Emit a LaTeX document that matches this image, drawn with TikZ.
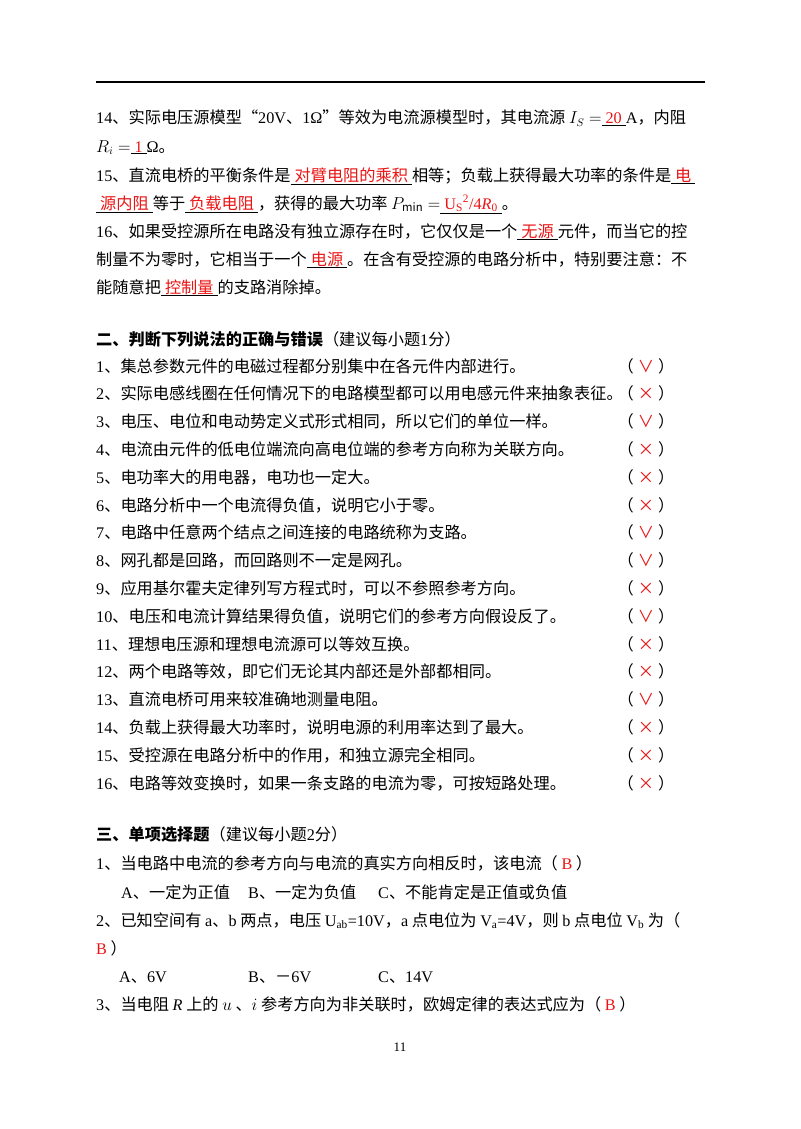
\documentclass[tikz,border=0pt]{standalone}
\usepackage{fontspec}
\setmainfont{Noto Sans CJK SC}
\newfontfamily\lat{Liberation Serif}
\definecolor{ansred}{RGB}{235,20,20}
\newcommand{\ans}[1]{\underline{\hspace{4pt}\textcolor{ansred}{#1}\hspace{4pt}}}
\newcommand{\Lt}[1]{{\lat #1}}
\begin{document}
\begin{tikzpicture}[x=1pt,y=-1pt,
  ln/.style={anchor=base west,inner sep=0pt,font=\fontsize{16.2}{16.2}\selectfont},
  mk/.style={anchor=base,inner sep=0pt,font=\fontsize{16.2}{16.2}\selectfont}]
\useasboundingbox (0,0) rectangle (800,1129);
\fill[white] (0,0) rectangle (800,1129);
\draw[line width=1.2pt] (96,82) -- (705,82);
\node[ln] (a1) at (96,124) {\Lt{14}、实际电压源模型“\Lt{20V}、\Lt{1Ω}”等效为电流源模型时，其电流源 $I_S=$\ans{\Lt{20}}\Lt{A}，内阻};
\node[ln] (a2) at (96,152) {$R_i=$\ans{\Lt{1}}\Lt{Ω}。};
\node[ln] (a3) at (96,181) {\Lt{15}、直流电桥的平衡条件是\ans{对臂电阻的乘积}相等；负载上获得最大功率的条件是\ans{电}};
\node[ln] (a4) at (96,209) {\ans{源内阻}等于\ans{负载电阻}，获得的最大功率 $P_{\min}=$\ans{\Lt{U\textsubscript{S}\textsuperscript{2}/4\textit{R}\textsubscript{0}}}。};
\node[ln] (a5) at (96,237) {\Lt{16}、如果受控源所在电路没有独立源存在时，它仅仅是一个\ans{无源}元件，而当它的控};
\node[ln] (a6) at (96,265) {制量不为零时，它相当于一个\ans{电源}。在含有受控源的电路分析中，特别要注意：不};
\node[ln] (a7) at (96,293) {能随意把\ans{控制量}的支路消除掉。};
\node[ln] (s2) at (96,345) {\textbf{二、判断下列说法的正确与错误}（建议每小题\Lt{1}分）};
\foreach \i/\t/\m in {
 1/集总参数元件的电磁过程都分别集中在各元件内部进行。/∨,
 2/实际电感线圈在任何情况下的电路模型都可以用电感元件来抽象表征。/×,
 3/电压、电位和电动势定义式形式相同，所以它们的单位一样。/∨,
 4/电流由元件的低电位端流向高电位端的参考方向称为关联方向。/×,
 5/电功率大的用电器，电功也一定大。/×,
 6/电路分析中一个电流得负值，说明它小于零。/×,
 7/电路中任意两个结点之间连接的电路统称为支路。/∨,
 8/网孔都是回路，而回路则不一定是网孔。/∨,
 9/应用基尔霍夫定律列写方程式时，可以不参照参考方向。/×,
 10/电压和电流计算结果得负值，说明它们的参考方向假设反了。/∨,
 11/理想电压源和理想电流源可以等效互换。/×,
 12/两个电路等效，即它们无论其内部还是外部都相同。/×,
 13/直流电桥可用来较准确地测量电阻。/∨,
 14/负载上获得最大功率时，说明电源的利用率达到了最大。/×,
 15/受控源在电路分析中的作用，和独立源完全相同。/×,
 16/电路等效变换时，如果一条支路的电流为零，可按短路处理。/×}{
  \pgfmathsetmacro\yy{372+(\i-1)*27.8}
  \node[ln] (j\i) at (96,\yy) {\Lt{\i}、\t};
  \node[mk] (p\i) at (646,\yy) {（\hspace{4pt}\textcolor{ansred}{\m}\hspace{4pt}）};
}
\node[ln] (s3) at (96,840) {\textbf{三、单项选择题}（建议每小题\Lt{2}分）};
\node[ln] (c1) at (96,869) {\Lt{1}、当电路中电流的参考方向与电流的真实方向相反时，该电流（ \textcolor{ansred}{\Lt{B}} ）};
\node[ln] (c1a) at (121,898) {\Lt{A}、一定为正值};
\node[ln] (c1b) at (248,898) {\Lt{B}、一定为负值};
\node[ln] (c1c) at (378,898) {\Lt{C}、不能肯定是正值或负值};
\node[ln] (c2) at (96,926) {\Lt{2}、已知空间有 \Lt{a}、\Lt{b} 两点，电压 \Lt{U\textsubscript{ab}=10V}，\Lt{a} 点电位为 \Lt{V\textsubscript{a}=4V}，则 \Lt{b} 点电位 \Lt{V\textsubscript{b}} 为（};
\node[ln] (c2x) at (96,954) {\textcolor{ansred}{\Lt{B}} ）};
\node[ln] (c2a) at (119,982) {\Lt{A}、\Lt{6V}};
\node[ln] (c2b) at (248,982) {\Lt{B}、－\Lt{6V}};
\node[ln] (c2c) at (378,982) {\Lt{C}、\Lt{14V}};
\node[ln] (c3) at (96,1010) {\Lt{3}、当电阻 \Lt{\textit{R}} 上的 $u$ 、$i$ 参考方向为非关联时，欧姆定律的表达式应为（ \textcolor{ansred}{\Lt{B}} ）};
\node[anchor=base,inner sep=0pt,font=\fontsize{13}{13}\selectfont\lat] (pg) at (400,1051) {11};
\end{tikzpicture}
\end{document}
